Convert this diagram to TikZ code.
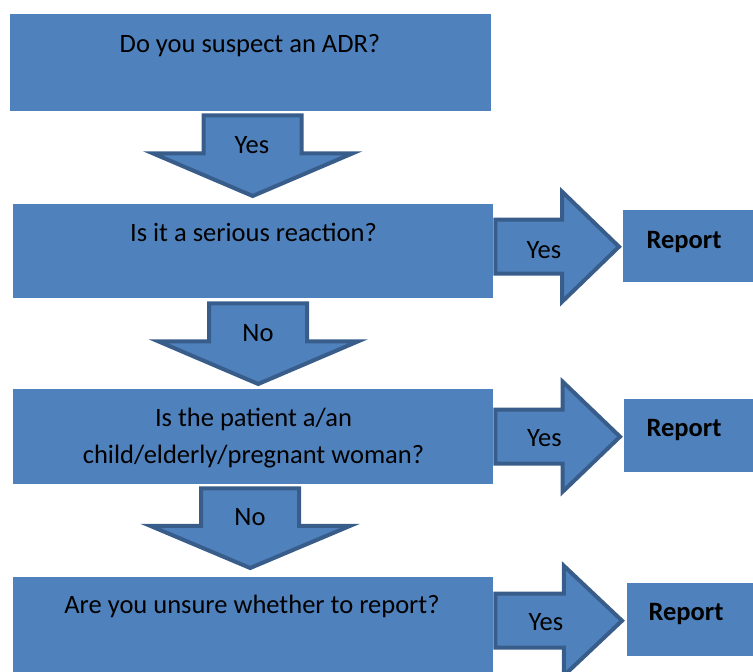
\documentclass[tikz,border=0pt]{standalone}
\usepackage{fontspec}
\setmainfont{Carlito}
\usetikzlibrary{calc}

\definecolor{flowblue}{HTML}{4F81BD}
\definecolor{flowedge}{HTML}{385D8A}

\tikzset{
  qbox/.style={fill=flowblue, inner sep=0pt, anchor=north west},
  qtext/.style={anchor=base, inner sep=0pt, align=center,
    font=\fontsize{26.5}{37}\selectfont},
  rtext/.style={qtext, font=\fontsize{26.5}{37}\selectfont\bfseries},
  blockarrow/.style={fill=flowblue, draw=flowedge, line width=4pt, line join=miter},
  % block arrow pointing down, from start (top of shaft) to target (tip)
  downblock/.style={blockarrow, to path={
    let \p1=(\tikztostart), \p2=(\tikztotarget), \n1={\y1+0.47*(\y2-\y1)} in
    (\x1-49pt,\y1) -- (\x1+49pt,\y1) -- (\x1+49pt,\n1) -- (\x1+100pt,\n1)
    -- (\x1,\y2) -- (\x1-100pt,\n1) -- (\x1-49pt,\n1) -- cycle}},
  % block arrow pointing right
  rightblock/.style={blockarrow, to path={
    let \p1=(\tikztostart), \p2=(\tikztotarget), \n1={\x1+0.54*(\x2-\x1)} in
    (\x1,\y1+27pt) -- (\n1,\y1+27pt) -- (\n1,\y1+55pt) -- (\x2,\y1)
    -- (\n1,\y1-55pt) -- (\n1,\y1-27pt) -- (\x1,\y1-27pt) -- cycle}}
}

\begin{document}
\begin{tikzpicture}[x=1pt,y=-1pt]
  \useasboundingbox (0,0) rectangle (753,672);

  % question boxes
  \node[qbox, minimum width=481, minimum height=97] (q1) at (10,14) {};
  \node[qbox, minimum width=480, minimum height=94] (q2) at (13,204) {};
  \node[qbox, minimum width=480, minimum height=95] (q3) at (13,389) {};
  \node[qbox, minimum width=480, minimum height=95] (q4) at (13,577) {};

  % report boxes
  \node[qbox, minimum width=130, minimum height=72] (r1) at (623,210) {};
  \node[qbox, minimum width=129, minimum height=73] (r2) at (624,399) {};
  \node[qbox, minimum width=126, minimum height=73] (r3) at (627,583) {};

  % ends of the block arrows
  \coordinate (d1s) at ($(q1.south)+(2,4)$);
  \coordinate (d1e) at ($(q2.north)+(-0.5,-8)$);
  \coordinate (d2s) at ($(q2.south)+(5,5)$);
  \coordinate (d2e) at ($(q3.north)+(5,-5)$);
  \coordinate (d3s) at ($(q3.south)+(-3,4)$);
  \coordinate (d3e) at ($(q4.north)+(-3,-9)$);
  \coordinate (y1s) at ($(q2.east)+(2,-4.5)$);
  \coordinate (y1e) at ($(r1.west)+(-4,0.5)$);
  \coordinate (y2s) at ($(q3.east)+(2,0)$);
  \coordinate (y2e) at ($(r2.west)+(-4,0)$);
  \coordinate (y3s) at ($(q4.east)+(2,-4)$);
  \coordinate (y3e) at ($(r3.west)+(-5,0.5)$);

  % block arrows
  \draw[downblock] (d1s) to (d1e);
  \draw[downblock] (d2s) to (d2e);
  \draw[downblock] (d3s) to (d3e);
  \draw[rightblock] (y1s) to (y1e);
  \draw[rightblock] (y2s) to (y2e);
  \draw[rightblock] (y3s) to (y3e);

  % texts
  \node[qtext] (q1t) at (250,52) {Do you suspect an ADR?};
  \node[qtext] (q2t) at (253.5,241) {Is it a serious reaction?};
  \node[qtext] (q3t) at (253.5,463) {Is the patient a/an\\child/elderly/pregnant woman?};
  \node[qtext] (q4t) at (252,613) {Are you unsure whether to report?};

  \node[qtext] (d1t) at (252,153) {Yes};
  \node[qtext] (d2t) at (258,341) {No};
  \node[qtext] (d3t) at (250,525) {No};
  \node[qtext] (y1t) at (544,258) {Yes};
  \node[qtext] (y2t) at (544.5,446) {Yes};
  \node[qtext] (y3t) at (546,630) {Yes};

  \node[rtext] (r1t) at (684,248) {Report};
  \node[rtext] (r2t) at (684,436) {Report};
  \node[rtext] (r3t) at (686,620) {Report};
\end{tikzpicture}
\end{document}
